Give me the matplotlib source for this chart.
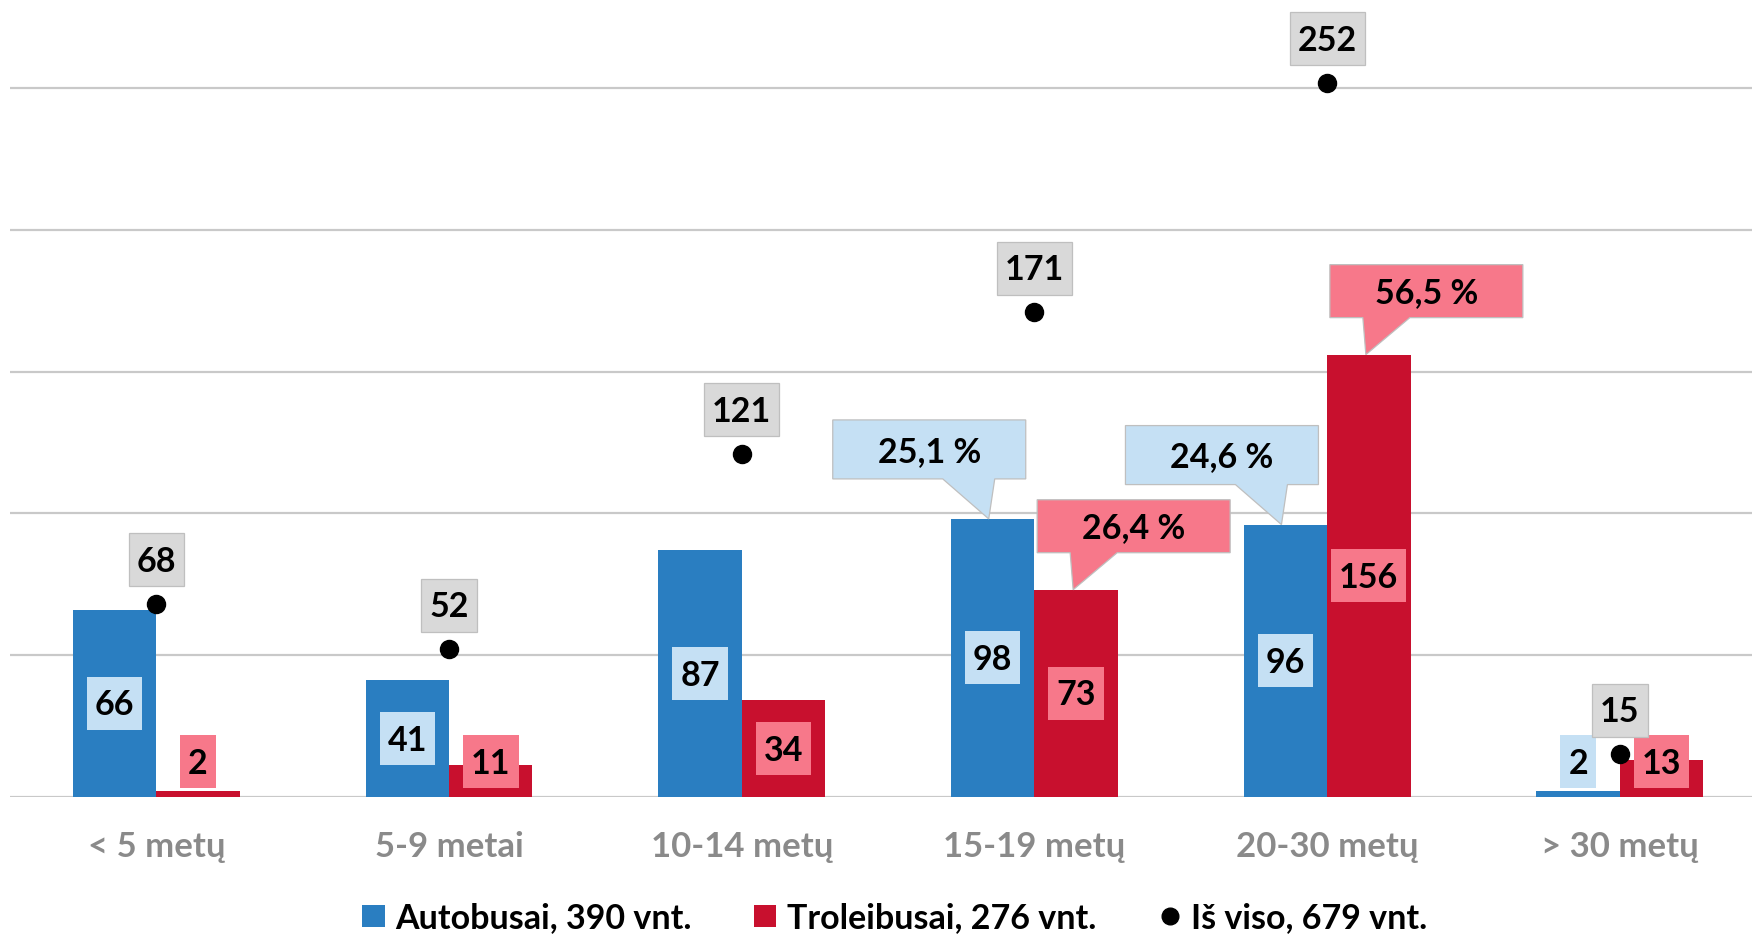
import numpy as np
import matplotlib
matplotlib.use('Agg')
import matplotlib.pyplot as plt
from matplotlib.patches import Rectangle, Polygon, Patch
from matplotlib.lines import Line2D
from matplotlib.transforms import IdentityTransform

# ---------------- data ----------------
categories = ['< 5 metų', '5-9 metai', '10-14 metų', '15-19 metų', '20-30 metų', '> 30 metų']
autobusai = [66, 41, 87, 98, 96, 2]
troleibusai = [2, 11, 34, 73, 156, 13]
is_viso = [68, 52, 121, 171, 252, 15]
legend_labels = ['Autobusai, 390 vnt.', 'Troleibusai, 276 vnt.', 'Iš viso, 679 vnt.']
share_cats = [3, 4]
share_bus_labels = ['25,1 %', '24,6 %']
share_trol_labels = ['26,4 %', '56,5 %']

# ---------------- style ----------------
plt.rcParams['font.family'] = ['Lato', 'DejaVu Sans']
BLUE = '#2A7EC1'
RED = '#C8102E'
LBLUE = '#C5E0F4'
PINK = '#F7788A'
GRAYBOX = '#D9D9D9'
BORDER = '#BFBFBF'
GRID = '#C9C9C9'
TICKC = '#8A8A8A'

W, H, DPI = 1752, 934, 100
fig = plt.figure(figsize=(W / DPI, H / DPI), dpi=DPI)
base_px = 796.5
px_per_unit = 2.8325
cat_px = 292.7
left_px = 10
ax = fig.add_axes([left_px / W, (H - base_px) / H, 1 - left_px / W, base_px / H])

x = np.arange(len(categories))
bw = 0.285
ax.bar(x - bw / 2, autobusai, bw, color=BLUE, zorder=2, linewidth=0)
ax.bar(x + bw / 2, troleibusai, bw, color=RED, zorder=2, linewidth=0)
ax.plot(x, is_viso, 'o', color='black', ms=13, zorder=4, ls='none')

ax.set_xlim(-0.5, -0.5 + (W - left_px) / cat_px)
ax.set_ylim(0, base_px / px_per_unit)
ax.set_yticks(range(0, 251, 50))
ax.yaxis.grid(True, color=GRID, lw=1.6)
ax.set_axisbelow(True)
ax.tick_params(axis='y', length=0, labelleft=False)
ax.tick_params(axis='x', length=0, pad=25, labelsize=25, labelcolor=TICKC)
ax.set_xticks(x, categories, fontweight='bold')
for sp in ax.spines.values():
    sp.set_visible(False)

renderer = fig.canvas.get_renderer()
FS = 24.5
CAP = 0.72 * FS * DPI / 72.0
IDT = IdentityTransform()


def to_px(xd, yd):
    return ax.transData.transform((xd, yd))


def label_box(px, py, s, fc, ec='none', lw=0.0, h=53, padx=8, z=6):
    t = ax.text(px, py - CAP / 2, s, transform=IDT, ha='center', va='baseline',
                fontsize=FS, fontweight='bold', color='black', zorder=z + 0.5, clip_on=False)
    bb = t.get_window_extent(renderer)
    ww = bb.width + 2 * padx
    ax.add_patch(Rectangle((px - ww / 2, py - h / 2), ww, h, transform=IDT,
                           fc=fc, ec=ec, lw=lw, zorder=z, clip_on=False))


# value labels inside bars
for i in range(len(categories)):
    px, py = to_px(x[i] - bw / 2, max(autobusai[i] / 2, 12.3))
    label_box(px, py, str(autobusai[i]), LBLUE)
    px, py = to_px(x[i] + bw / 2, max(troleibusai[i] / 2, 12.3))
    label_box(px, py, str(troleibusai[i]), PINK)

# total labels above dots
for i in range(len(categories)):
    px, py = to_px(x[i], is_viso[i])
    label_box(px, py + 44, str(is_viso[i]), GRAYBOX, ec=BORDER, lw=0.9)


def callout(cx, ty, s, fc, kind):
    if kind == 'left':   # box to the left of the tip (blue)
        left, right = cx - 160, cx + 33
        bottom, top = ty + 40, ty + 99
        b1, b2, tip = cx - 50, cx + 2, cx - 4
    else:                # box to the right of the tip (pink)
        left, right = cx - 39, cx + 154
        bottom, top = ty + 37, ty + 90
        b1, b2, tip = cx - 6, cx + 41, cx - 3
    verts = [(left, bottom), (b1, bottom), (tip, ty), (b2, bottom),
             (right, bottom), (right, top), (left, top)]
    ax.add_patch(Polygon(verts, closed=True, transform=IDT, fc=fc, ec=BORDER,
                         lw=0.9, zorder=8, clip_on=False))
    ymid = (bottom + top) / 2
    ax.text((left + right) / 2, ymid - CAP / 2, s, transform=IDT, ha='center',
            va='baseline', fontsize=FS, fontweight='bold', color='black',
            zorder=9, clip_on=False)


for k, i in enumerate(share_cats):
    cx, ty = to_px(x[i] - bw / 2, autobusai[i])
    callout(cx, ty, share_bus_labels[k], LBLUE, 'left')
    cx, ty = to_px(x[i] + bw / 2, troleibusai[i])
    callout(cx, ty, share_trol_labels[k], PINK, 'right')

# legend
handles = [Patch(fc=BLUE, ec='none'), Patch(fc=RED, ec='none'),
           Line2D([], [], ls='none', marker='o', color='black', ms=12)]
fig.legend(handles, legend_labels, loc='center', bbox_to_anchor=(895 / W, 1 - 918 / H),
           ncol=3, frameon=False, prop=dict(weight='bold', size=24.5),
           handlelength=0.65, handleheight=0.65, handletextpad=0.3,
           columnspacing=1.85, borderpad=0, borderaxespad=0)

fig.savefig('out.png', dpi=DPI, facecolor='white')
